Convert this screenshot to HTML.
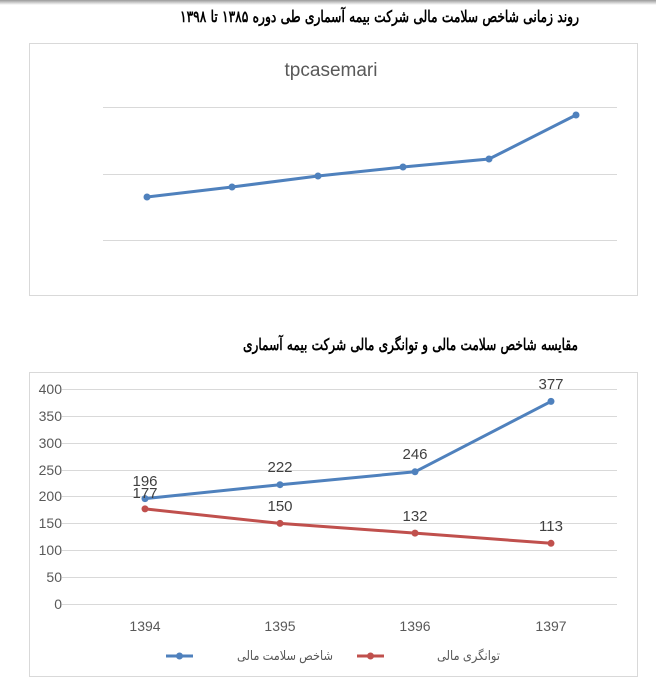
<!DOCTYPE html>
<html><head><meta charset="utf-8"><style>
body{margin:0;background:#fff;width:656px;height:684px;overflow:hidden;position:relative;font-family:"Liberation Sans","Noto Sans CJK SC",sans-serif}
.shadow{position:absolute;left:0;top:0;width:656px;height:5px;background:linear-gradient(#9a9a9a,#fff)}
</style></head><body>
<div class="shadow"></div>
<svg width="656" height="684" style="position:absolute;left:0;top:0" font-family="Liberation Sans, DejaVu Sans, sans-serif">
<text x="579" y="22" font-size="16" text-anchor="start" direction="rtl" font-family="DejaVu Serif, serif" font-weight="bold" textLength="399" lengthAdjust="spacingAndGlyphs">روند زمانی شاخص سلامت مالی شرکت بیمه آسماری طی دوره ۱۳۸۵ تا ۱۳۹۸</text>
<rect x="29.5" y="43.5" width="608" height="252" fill="#fff" stroke="#d9d9d9"/>
<text x="331" y="76" font-size="19" fill="#595959" text-anchor="middle">tpcasemari</text>
<g stroke="#d9d9d9" stroke-width="1">
<line x1="103" y1="107.5" x2="617" y2="107.5"/><line x1="103" y1="174.5" x2="617" y2="174.5"/><line x1="103" y1="240.5" x2="617" y2="240.5"/>
</g>
<polyline points="147,197 232,187 318,176 403,167 489,159 576,115" fill="none" stroke="#4f81bd" stroke-width="3"/>
<g fill="#4f81bd"><circle cx="147" cy="197" r="3.5"/><circle cx="232" cy="187" r="3.5"/><circle cx="318" cy="176" r="3.5"/><circle cx="403" cy="167" r="3.5"/><circle cx="489" cy="159" r="3.5"/><circle cx="576" cy="115" r="3.5"/></g>

<text x="578" y="350" font-size="16" text-anchor="start" direction="rtl" font-family="DejaVu Serif, serif" font-weight="bold" textLength="335" lengthAdjust="spacingAndGlyphs">مقایسه شاخص سلامت مالی و توانگری مالی شرکت بیمه آسماری</text>
<rect x="29.5" y="372.5" width="608" height="304" fill="#fff" stroke="#d9d9d9"/>
<g stroke="#d9d9d9" stroke-width="1">
<line x1="62" y1="389.5" x2="617" y2="389.5"/><line x1="62" y1="416.5" x2="617" y2="416.5"/><line x1="62" y1="443.5" x2="617" y2="443.5"/><line x1="62" y1="470.5" x2="617" y2="470.5"/><line x1="62" y1="496.5" x2="617" y2="496.5"/><line x1="62" y1="523.5" x2="617" y2="523.5"/><line x1="62" y1="550.5" x2="617" y2="550.5"/><line x1="62" y1="577.5" x2="617" y2="577.5"/><line x1="62" y1="604.5" x2="617" y2="604.5"/>
</g>
<g font-size="14" fill="#595959" text-anchor="end">
<text x="62" y="394">400</text><text x="62" y="421">350</text><text x="62" y="448">300</text><text x="62" y="475">250</text><text x="62" y="501">200</text><text x="62" y="528">150</text><text x="62" y="555">100</text><text x="62" y="582">50</text><text x="62" y="609">0</text>
</g>
<g font-size="14" fill="#595959" text-anchor="middle">
<text x="145" y="631">1394</text><text x="280" y="631">1395</text><text x="415" y="631">1396</text><text x="551" y="631">1397</text>
</g>
<polyline points="145,498.6 280,484.7 415,471.8 551,401.4" fill="none" stroke="#4f81bd" stroke-width="3"/>
<polyline points="145,508.9 280,523.4 415,533.1 551,543.3" fill="none" stroke="#c0504d" stroke-width="3"/>
<g fill="#4f81bd"><circle cx="145" cy="498.6" r="3.5"/><circle cx="280" cy="484.7" r="3.5"/><circle cx="415" cy="471.8" r="3.5"/><circle cx="551" cy="401.4" r="3.5"/></g>
<g fill="#c0504d"><circle cx="145" cy="508.9" r="3.5"/><circle cx="280" cy="523.4" r="3.5"/><circle cx="415" cy="533.1" r="3.5"/><circle cx="551" cy="543.3" r="3.5"/></g>
<g font-size="15" fill="#404040" text-anchor="middle">
<text x="145" y="486">196</text><text x="145" y="498">177</text>
<text x="280" y="472">222</text><text x="415" y="459">246</text><text x="551" y="389">377</text>
<text x="280" y="511">150</text><text x="415" y="521">132</text><text x="551" y="531">113</text>
</g>
<line x1="166" y1="656" x2="193" y2="656" stroke="#4f81bd" stroke-width="3"/><circle cx="179.5" cy="656" r="3.5" fill="#4f81bd"/>
<text x="333" y="660" font-size="13" fill="#595959" text-anchor="start" direction="rtl" textLength="96" lengthAdjust="spacingAndGlyphs">شاخص سلامت مالی</text>
<line x1="357" y1="656" x2="384" y2="656" stroke="#c0504d" stroke-width="3"/><circle cx="370.5" cy="656" r="3.5" fill="#c0504d"/>
<text x="500" y="660" font-size="13" fill="#595959" text-anchor="start" direction="rtl" textLength="63" lengthAdjust="spacingAndGlyphs">توانگری مالی</text>
</svg>
</body></html>
